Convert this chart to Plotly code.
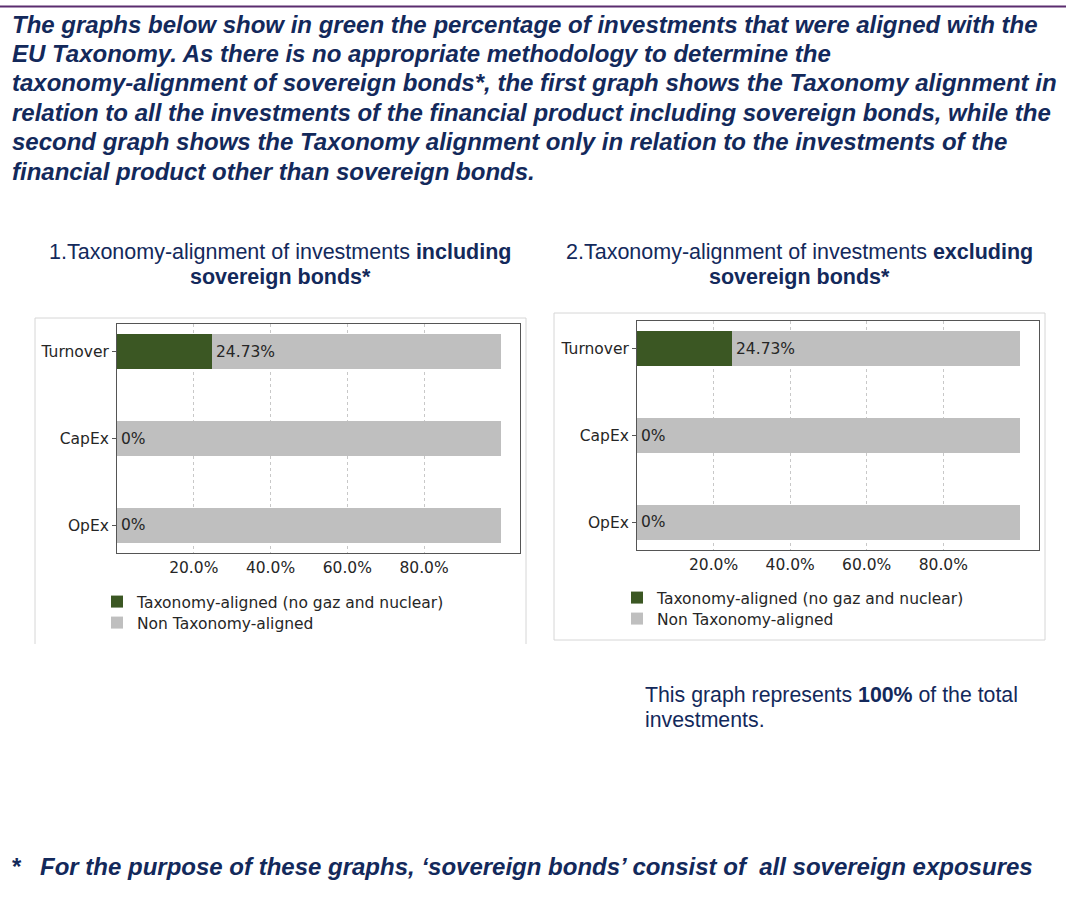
import plotly.graph_objects as go

W, H = 1076, 915

categories = ["Turnover", "CapEx", "OpEx"]
aligned_incl = [24.73, 0.0, 0.0]
non_aligned_incl = [75.27, 100.0, 100.0]
aligned_excl = [24.73, 0.0, 0.0]
non_aligned_excl = [75.27, 100.0, 100.0]
tick_vals = [20, 40, 60, 80]
tick_text = ["20.0%", "40.0%", "60.0%", "80.0%"]
series_names = ["Taxonomy-aligned (no gaz and nuclear)", "Non Taxonomy-aligned"]

header_lines = [
    "The graphs below show in green the percentage of investments that were aligned with the",
    "EU Taxonomy. As there is no appropriate methodology to determine the",
    "taxonomy-alignment of sovereign bonds*, the first graph shows the Taxonomy alignment in",
    "relation to all the investments of the financial product including sovereign bonds, while the",
    "second graph shows the Taxonomy alignment only in relation to the investments of the",
    "financial product other than sovereign bonds.",
]

GREEN = "#3b5723"
GREY = "#bfbfbf"
NAVY = "#13295b"
TXT = "#262626"
AX = "#555555"
PANEL = "#d6d6d6"
MPL = "DejaVu Sans"
ARIAL = "Liberation Sans, Arial"
MPL_SIZE = 15.5


def px(x):
    return x / W


def py(y):
    return 1 - y / H


fig = go.Figure()

chart_specs = [
    (aligned_incl, non_aligned_incl, "x", "y", ["legend", "legend2"]),
    (aligned_excl, non_aligned_excl, "x2", "y2", ["legend3", "legend4"]),
]
for (al, na, xa, ya, lgs) in chart_specs:
    fig.add_trace(go.Bar(y=categories, x=al, orientation="h", name=series_names[0],
                         marker=dict(color=GREEN, line=dict(width=0)), width=0.4,
                         xaxis=xa, yaxis=ya, legend=lgs[0], hoverinfo="skip"))
    fig.add_trace(go.Bar(y=categories, x=na, orientation="h", name=series_names[1],
                         marker=dict(color=GREY, line=dict(width=0)), width=0.4,
                         xaxis=xa, yaxis=ya, legend=lgs[1], hoverinfo="skip"))

annotations = []
for (al, na, xa, ya, lgs) in chart_specs:
    for c, v in zip(categories, al):
        annotations.append(dict(x=v, y=c, xref=xa, yref=ya, text=f"{v:g}%",
                                showarrow=False, xanchor="left", yanchor="middle",
                                xshift=2, font=dict(family=MPL, size=MPL_SIZE, color=TXT)))

# header text
for i, line in enumerate(header_lines):
    annotations.append(dict(x=px(10), y=py(24 + i * 29.4), xref="paper", yref="paper",
                            text=f"<b><i>{line}</i></b>", showarrow=False,
                            xanchor="left", yanchor="middle",
                            font=dict(family=ARIAL, size=24, color=NAVY)))

# chart titles
titles = [
    (280, "1.Taxonomy-alignment of investments <b>including</b>"),
    (799, "2.Taxonomy-alignment of investments <b>excluding</b>"),
]
for cx, t in titles:
    annotations.append(dict(x=px(cx), y=py(252), xref="paper", yref="paper", text=t,
                            showarrow=False, xanchor="center", yanchor="middle",
                            font=dict(family=ARIAL, size=21.5, color=NAVY)))
    annotations.append(dict(x=px(cx), y=py(276.5), xref="paper", yref="paper",
                            text="<b>sovereign bonds*</b>",
                            showarrow=False, xanchor="center", yanchor="middle",
                            font=dict(family=ARIAL, size=21.5, color=NAVY)))

annotations.append(dict(x=px(643), y=py(695), xref="paper", yref="paper",
                        text="This graph represents <b>100%</b> of the total",
                        showarrow=False, xanchor="left", yanchor="middle",
                        font=dict(family=ARIAL, size=21.3, color=NAVY)))
annotations.append(dict(x=px(643), y=py(720), xref="paper", yref="paper",
                        text="investments.",
                        showarrow=False, xanchor="left", yanchor="middle",
                        font=dict(family=ARIAL, size=21.3, color=NAVY)))

annotations.append(dict(x=px(10), y=py(866), xref="paper", yref="paper",
                        text="<b>*</b>", showarrow=False, xanchor="left", yanchor="middle",
                        font=dict(family=ARIAL, size=24, color=NAVY)))
annotations.append(dict(x=px(38), y=py(866), xref="paper", yref="paper",
                        text="<b><i>For the purpose of these graphs, \u2018sovereign bonds\u2019 consist of\u00a0 all sovereign exposures</i></b>",
                        showarrow=False, xanchor="left", yanchor="middle",
                        font=dict(family=ARIAL, size=24, color=NAVY)))

shapes = [
    dict(type="line", xref="paper", yref="paper", x0=0, x1=px(1066), y0=py(6.5), y1=py(6.5),
         line=dict(color="#5b2c6f", width=2)),
    # panel 1 (left, top, right)
    dict(type="line", xref="paper", yref="paper", x0=px(35), x1=px(35), y0=py(318), y1=py(644),
         line=dict(color=PANEL, width=1)),
    dict(type="line", xref="paper", yref="paper", x0=px(35), x1=px(526), y0=py(318), y1=py(318),
         line=dict(color=PANEL, width=1)),
    dict(type="line", xref="paper", yref="paper", x0=px(526), x1=px(526), y0=py(318), y1=py(644),
         line=dict(color=PANEL, width=1)),
    # panel 2
    dict(type="rect", xref="paper", yref="paper", x0=px(554), x1=px(1045), y0=py(640), y1=py(313),
         line=dict(color=PANEL, width=1)),
]

xaxis_common = dict(range=[0, 105], tickvals=tick_vals, ticktext=tick_text, showgrid=True,
                    gridcolor="#c8c8c8", griddash="dot", gridwidth=1, zeroline=False,
                    showline=True, mirror=True, linecolor=AX, linewidth=1, ticks="",
                    tickfont=dict(family=MPL, size=MPL_SIZE, color=TXT), fixedrange=True)
yaxis_common = dict(categoryorder="array", categoryarray=categories, range=[2.32, -0.32],
                    showgrid=False, zeroline=False, showline=True, mirror=True, linecolor=AX,
                    linewidth=1, ticks="outside", ticklen=4, tickcolor=AX,
                    tickfont=dict(family=MPL, size=MPL_SIZE, color=TXT), fixedrange=True)


def legend_at(xpix, ypix):
    return dict(x=px(xpix), y=py(ypix), xanchor="left", yanchor="middle",
                bgcolor="rgba(0,0,0,0)", font=dict(family=MPL, size=MPL_SIZE, color=TXT),
                borderwidth=0)


fig.update_layout(
    width=W, height=H,
    margin=dict(l=0, r=0, t=0, b=0),
    paper_bgcolor="white", plot_bgcolor="white",
    barmode="stack",
    xaxis=dict(domain=[px(117), px(520)], anchor="y", **xaxis_common),
    yaxis=dict(domain=[py(553), py(324)], anchor="x", **yaxis_common),
    xaxis2=dict(domain=[px(637), px(1039)], anchor="y2", **xaxis_common),
    yaxis2=dict(domain=[py(550), py(321)], anchor="x2", **yaxis_common),
    legend=legend_at(97, 602),
    legend2=legend_at(97, 623),
    legend3=legend_at(617, 598),
    legend4=legend_at(617, 619),
    annotations=annotations,
    shapes=shapes,
    showlegend=True,
)

fig.write_html("out.html", config={"displayModeBar": False},
               post_script="document.body.style.margin='0px';")
